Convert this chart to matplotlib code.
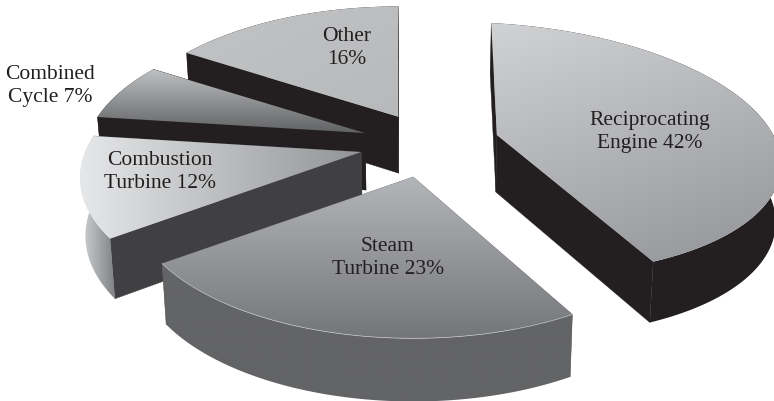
import numpy as np
import matplotlib
matplotlib.use("Agg")
import matplotlib.pyplot as plt
from matplotlib.colors import LinearSegmentedColormap
from matplotlib.patches import Polygon

# clockwise from the back of the pie
names = ["Reciprocating\nEngine ", "Steam\nTurbine ", "Combustion\nTurbine ", "Combined\nCycle ", "Other\n"]
shares = [42, 23, 12, 7, 16]

# projection of the pie plane on the picture
CENTER = (430, 145)
EXPLODE = 68
START = -90

# the source drawing is not a perfect projection, each slice gets its own:
# radius, radius_y, perspective, rotation, start shift (degrees), centre nudge
shapes = [
    (284, 123.4, 0.108, 4, -3, (1, -2)),
    (276, 131, 0.188, 0, 0, (-2, 0.5)),
    (276, 131, 0.188, 0, 0, (-3, -1)),
    (276, 131, 0.188, 0, 0, (-1, -1)),
    (276, 131, 0.188, 0, 0, (1, 0)),
]

# top face: light, dark, gradient direction in degrees (90 = downwards)
top_styles = [
    ("#d1d2d4", "#929497", 72),
    ("#b4b5b8", "#75767a", 90),
    ("#e6e7e8", "#929497", 0),
    ("#bfc0c2", "#616264", 90),
    ("#c2c3c5", "#b8b9bb", 60),
]
cut_colors = ["#231f20", "#636466", "#404042", "#231f20", "#231f20"]
rim_styles = [
    ("#231f20", "#231f20", 0),
    ("#636466", "#636466", 0),
    ("#d4d5d7", "#808184", 0),
    ("#231f20", "#231f20", 0),
    ("#231f20", "#231f20", 0),
]
label_pos = [(650, 132), (388, 258), (160, 172), (50, 86), (347, 48)]

fig = plt.figure(figsize=(7.74, 4.01), dpi=100)
ax = fig.add_axes([0, 0, 1, 1])
ax.set_xlim(0, 774)
ax.set_ylim(401, 0)
ax.axis("off")


def project(cx, cy, t, shape):
    r, ry, p, rot = shape[:4]
    s = 1 / (1 - p * np.sin(t))
    x = r * np.cos(t) * s
    y = ry * np.sin(t) * s
    a = np.radians(rot)
    return cx + x * np.cos(a) - y * np.sin(a), cy + x * np.sin(a) + y * np.cos(a)


def drop(x, y):
    # bottom edge of the pie, slightly smaller because of the perspective
    return CENTER[0] + (x - CENTER[0]) * 0.985, y + 53 + 0.03 * y


def gradient(pts, style, z):
    light, dark, angle = style
    x0, y0 = pts.min(axis=0)
    x1, y1 = pts.max(axis=0)
    yy, xx = np.mgrid[0:1:200j, 0:1:200j]
    a = np.radians(angle)
    g = (xx - 0.5) * (x1 - x0) * np.cos(a) + (yy - 0.5) * (y1 - y0) * np.sin(a)
    cmap = LinearSegmentedColormap.from_list("g", [light, dark])
    im = ax.imshow(g, cmap=cmap, extent=(x0, x1, y1, y0), aspect="auto", zorder=z)
    clip = Polygon(pts, closed=True, transform=ax.transData)
    im.set_clip_path(clip)


sweeps = np.array(shares) * 3.6
starts = START + np.concatenate([[0], np.cumsum(sweeps)[:-1]])

z = 1
for i in [4, 3, 2, 0, 1]:
    shape = shapes[i]
    begin = starts[i] + shape[4]
    t = np.radians(np.linspace(begin, begin + sweeps[i], 120))
    mid = np.radians(starts[i] + sweeps[i] / 2)
    cx = CENTER[0] + EXPLODE * np.cos(mid) + shape[5][0]
    cy = CENTER[1] + EXPLODE * 131 / 276 * np.sin(mid) + shape[5][1]
    rx, ry = project(cx, cy, t, shape)
    bx, by = drop(rx, ry)
    bcx, bcy = drop(cx, cy)

    # the two cut faces
    for j in [0, -1]:
        ax.add_patch(Polygon([(cx, cy), (rx[j], ry[j]), (bx[j], by[j]), (bcx, bcy)],
                             closed=True, fc=cut_colors[i], ec=cut_colors[i], lw=0.3, zorder=z))
    z += 1
    # outer side
    side = np.column_stack([np.r_[rx, bx[::-1]], np.r_[ry, by[::-1]]])
    gradient(side, rim_styles[i], z)
    z += 1
    # top
    top = np.column_stack([np.r_[cx, rx], np.r_[cy, ry]])
    gradient(top, top_styles[i], z)
    z += 1
    if i == 1:
        ax.plot(rx, ry, color="#c4c5c7", lw=0.5, zorder=z)
        z += 1

ax.set_xlim(0, 774)
ax.set_ylim(401, 0)

for i in range(len(names)):
    ax.text(label_pos[i][0], label_pos[i][1], f"{names[i]}{shares[i]}%", ha="center", va="center",
            multialignment="center", family="Liberation Serif", fontsize=15.5, color="#231f20",
            linespacing=1.28, zorder=50)

fig.savefig("out.png", dpi=100)
